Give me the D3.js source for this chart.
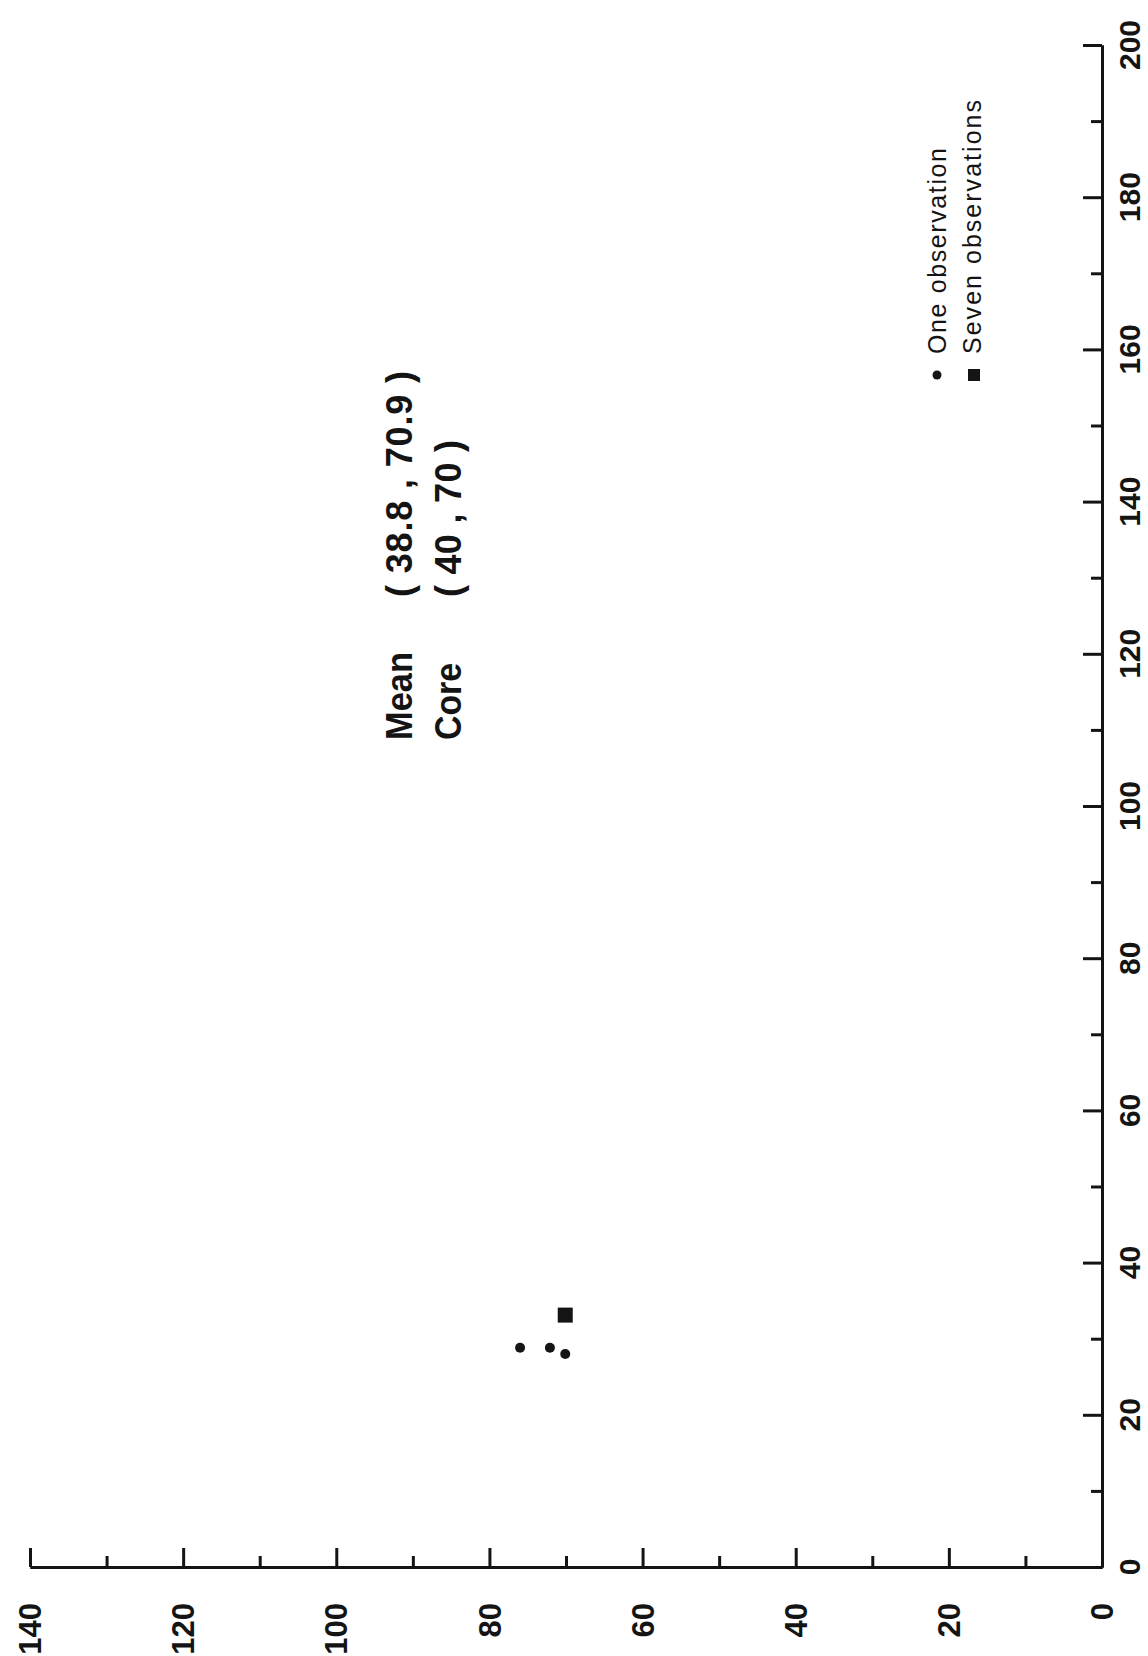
<!DOCTYPE html>
<html>
<head>
<meta charset="utf-8">
<script src="https://cdn.jsdelivr.net/npm/d3@7/dist/d3.min.js"></script>
<style>
  html, body { margin: 0; padding: 0; background: #fff; }
  svg { display: block; }
</style>
</head>
<body>
<script>
// ---- data (original chart: x = 0..200 axis, y = 0..140 axis; page is rotated) ----
const xMajorTicks = [0, 20, 40, 60, 80, 100, 120, 140, 160, 180, 200];
const xMinorTicks = [10, 30, 50, 70, 90, 110, 130, 150, 170, 190];
const yMajorTicks = [0, 20, 40, 60, 80, 100, 120, 140];
const yMinorTicks = [10, 30, 50, 70, 90, 110, 130];
const oneObsX = [28.8, 28.8, 28.0];
const oneObsY = [76.0, 72.1, 70.1];
const sevenObsX = [33.1];
const sevenObsY = [70.1];
const annotLabels = ["Mean", "Core"];
const annotValues = ["( 38.8 , 70.9 )", "( 40 , 70 )"];
const legendLabels = ["One  observation", "Seven  observations"];

const W = 1148, H = 1656;
const svg = d3.select("body").append("svg").attr("width", W).attr("height", H);

// x of original chart runs vertically (0 at bottom), y runs horizontally (0 at right)
const xScale = d3.scaleLinear().domain([0, 200]).range([1567, 45]);
const yScale = d3.scaleLinear().domain([0, 140]).range([1102, 30]);

const ink = "#141414";
const font = "'Liberation Sans', Arial, sans-serif";
const axisX = yScale(0), axisY = xScale(0);

function styleAxis(g) {
  g.select(".domain").attr("stroke", ink).attr("stroke-width", 3);
  g.selectAll(".tick line").attr("stroke", ink).attr("stroke-width", 3);
  g.selectAll(".tick text").remove();
}

// vertical axis (original x axis)
svg.append("g").attr("transform", `translate(${axisX},0)`)
  .call(d3.axisLeft(xScale).tickValues(xMajorTicks).tickSize(19).tickSizeOuter(0).tickFormat(""))
  .call(styleAxis);
svg.append("g").attr("transform", `translate(${axisX},0)`)
  .call(d3.axisLeft(xScale).tickValues(xMinorTicks).tickSize(11).tickSizeOuter(0).tickFormat(""))
  .call(styleAxis);

// horizontal axis (original y axis)
svg.append("g").attr("transform", `translate(0,${axisY})`)
  .call(d3.axisTop(yScale).tickValues(yMajorTicks).tickSize(19).tickSizeOuter(0).tickFormat(""))
  .call(styleAxis);
svg.append("g").attr("transform", `translate(0,${axisY})`)
  .call(d3.axisTop(yScale).tickValues(yMinorTicks).tickSize(11).tickSizeOuter(0).tickFormat(""))
  .call(styleAxis);

// tick labels, rotated
svg.append("g").selectAll("text").data(xMajorTicks).join("text")
  .attr("transform", d => `translate(1140,${xScale(d)}) rotate(-90)`)
  .attr("text-anchor", "middle")
  .attr("font-family", font).attr("font-weight", "bold").attr("font-size", 30)
  .attr("fill", ink)
  .text(d => d);

svg.append("g").selectAll("text").data(yMajorTicks).join("text")
  .attr("transform", d => `translate(${yScale(d)},1603) rotate(-90)`)
  .attr("text-anchor", "end")
  .attr("dy", "0.36em")
  .attr("font-family", font).attr("font-weight", "bold").attr("font-size", 31)
  .attr("fill", ink)
  .text(d => d);

// data points
const singles = oneObsX.map((x, i) => ({ x, y: oneObsY[i] }));
const sevens = sevenObsX.map((x, i) => ({ x, y: sevenObsY[i] }));

svg.append("g").selectAll("circle").data(singles).join("circle")
  .attr("cx", d => yScale(d.y)).attr("cy", d => xScale(d.x)).attr("r", 5)
  .attr("fill", ink);

const sq = 15;
svg.append("g").selectAll("rect").data(sevens).join("rect")
  .attr("x", d => yScale(d.y) - sq / 2).attr("y", d => xScale(d.x) - sq / 2)
  .attr("width", sq).attr("height", sq).attr("fill", ink);

// annotation text
const annot = [
  { label: annotLabels[0], lx: 412, ly: 740, llen: 88, value: annotValues[0], vy: 597, vlen: 226 },
  { label: annotLabels[1], lx: 461, ly: 740, llen: 77, value: annotValues[1], vy: 597, vlen: 157 }
];
const ag = svg.append("g").attr("font-family", font).attr("font-weight", "bold")
  .attr("font-size", 36).attr("fill", ink);
annot.forEach(a => {
  ag.append("text").attr("transform", `translate(${a.lx},${a.ly}) rotate(-90)`)
    .attr("textLength", a.llen).attr("lengthAdjust", "spacingAndGlyphs").text(a.label);
  ag.append("text").attr("transform", `translate(${a.lx},${a.vy}) rotate(-90)`)
    .attr("textLength", a.vlen).attr("lengthAdjust", "spacing").text(a.value);
});

// legend
const lg = svg.append("g").attr("font-family", font).attr("font-size", 25).attr("fill", ink);
lg.append("circle").attr("cx", 937).attr("cy", 375).attr("r", 4.5).attr("fill", ink);
lg.append("rect").attr("x", 968).attr("y", 369).attr("width", 12).attr("height", 12).attr("fill", ink);
lg.append("text").attr("transform", "translate(946,354) rotate(-90)")
  .attr("textLength", 206).attr("lengthAdjust", "spacing").text(legendLabels[0]);
lg.append("text").attr("transform", "translate(981,354) rotate(-90)")
  .attr("textLength", 254).attr("lengthAdjust", "spacing").text(legendLabels[1]);
</script>
</body>
</html>
